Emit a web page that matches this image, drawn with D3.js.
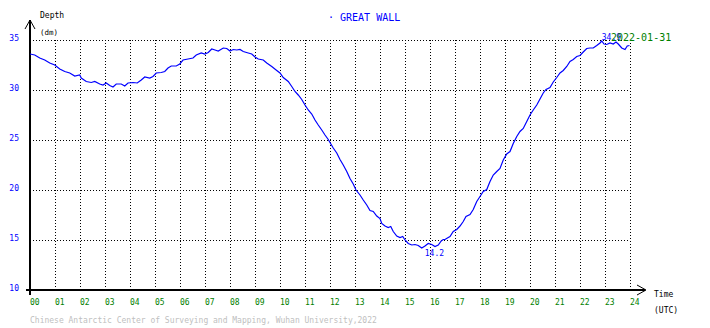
<!DOCTYPE html>
<html>
<head>
<meta charset="utf-8">
<script src="https://cdn.jsdelivr.net/npm/d3@7"></script>
<style>
  html, body { margin: 0; padding: 0; background: #fff; }
  svg { display: block; }
  text { font-family: "DejaVu Sans Mono", monospace; }
</style>
</head>
<body>
<script>
// Tide gauge record, station GREAT WALL, 2022-01-31 (hours UTC, depth in dm)
const stationName = "GREAT WALL";
const dateLabel = "2022-01-31";
const creditText = "Chinese Antarctic Center of Surveying and Mapping, Wuhan University,2022";

const hours = [
  0.00, 0.19, 0.39, 0.59, 0.79, 0.99, 1.19, 1.39, 1.59, 1.79, 1.99, 2.05, 2.25, 2.45, 2.59, 2.79,
  2.92, 3.05, 3.19, 3.32, 3.45, 3.65, 3.79, 3.92, 4.12, 4.29, 4.45, 4.59, 4.79, 4.92, 5.05, 5.25,
  5.39, 5.52, 5.65, 5.85, 5.99, 6.12, 6.32, 6.52, 6.65, 6.85, 6.99, 7.13, 7.27, 7.40, 7.53, 7.73,
  7.87, 8.00, 8.13, 8.27, 8.40, 8.53, 8.73, 8.87, 9.00, 9.13, 9.33, 9.47, 9.67, 9.87, 10.00, 10.13,
  10.33, 10.47, 10.60, 10.73, 10.87, 11.00, 11.13, 11.27, 11.40, 11.53, 11.67, 11.80, 11.93, 12.00,
  12.13, 12.27, 12.40, 12.53, 12.67, 12.80, 12.93, 13.04, 13.20, 13.33, 13.47, 13.60, 13.73, 13.87,
  14.00, 14.07, 14.20, 14.33, 14.43, 14.53, 14.67, 14.80, 14.91, 15.00, 15.13, 15.27, 15.40, 15.53,
  15.67, 15.80, 15.93, 16.07, 16.20, 16.33, 16.45, 16.53, 16.60, 16.73, 16.80, 16.93, 17.07, 17.20,
  17.33, 17.44, 17.60, 17.73, 17.87, 18.00, 18.13, 18.27, 18.40, 18.53, 18.67, 18.80, 18.93, 19.07,
  19.20, 19.33, 19.47, 19.60, 19.73, 19.87, 20.00, 20.13, 20.27, 20.40, 20.53, 20.64, 20.80, 20.93,
  21.07, 21.20, 21.33, 21.47, 21.60, 21.73, 21.87, 22.00, 22.13, 22.27, 22.40, 22.53, 22.67, 22.80,
  22.87, 22.96, 23.07, 23.20, 23.33, 23.44, 23.53, 23.67, 23.80, 23.89, 23.98
];
const depth = [
  33.6, 33.5, 33.2, 33.0, 32.7, 32.5, 32.1, 31.85, 31.7, 31.4, 31.5, 31.2, 30.85, 30.75, 30.85, 30.6,
  30.5, 30.7, 30.45, 30.3, 30.6, 30.6, 30.4, 30.7, 30.75, 30.7, 31.0, 31.3, 31.2, 31.35, 31.7, 31.75,
  31.85, 32.2, 32.4, 32.4, 32.6, 33.0, 33.1, 33.2, 33.5, 33.7, 33.6, 33.75, 34.1, 34.0, 33.9, 34.2,
  34.15, 33.9, 34.05, 34.0, 34.05, 33.85, 33.7, 33.6, 33.3, 33.1, 33.0, 32.7, 32.35, 31.95, 31.7, 31.25,
  30.85, 30.35, 29.85, 29.5, 29.05, 28.5, 28.0, 27.6, 27.0, 26.5, 26.0, 25.5, 25.05, 24.75,
  24.2, 23.7, 23.05, 22.5, 21.85, 21.15, 20.6, 20.0, 19.5, 19.0, 18.5, 17.95, 17.85, 17.4,
  17.15, 16.65, 16.4, 16.25, 16.35, 15.85, 15.4, 15.25, 15.35, 15.0, 14.65, 14.5, 14.55, 14.45,
  14.2, 14.4, 14.65, 14.55, 14.35, 14.5, 14.9, 15.05, 15.05, 15.25, 15.35, 15.85, 16.05, 16.4,
  16.85, 17.35, 17.55, 18.05, 18.85, 19.35, 19.85, 20.05, 20.85, 21.5, 21.85, 22.15, 23.0, 23.6,
  23.85, 24.65, 25.35, 25.85, 26.15, 26.85, 27.5, 28.0, 28.5, 29.1, 29.7, 30.05, 30.25, 30.8,
  31.25, 31.7, 31.95, 32.35, 32.85, 33.05, 33.35, 33.45, 33.8, 34.15, 34.2, 34.2, 34.45, 34.7,
  34.9, 34.6, 34.55, 34.7, 34.6, 34.8, 34.6, 34.2, 34.05, 34.4, 34.45
];

const hourTicks = d3.range(0, 25);          // 00 .. 24
const depthTicks = [10, 15, 20, 25, 30, 35];

const W = 710, H = 328;
const BLUE = "#0000ff", GREEN = "#008000";

const svg = d3.select("body").append("svg").attr("width", W).attr("height", H);
svg.append("rect").attr("width", W).attr("height", H).attr("fill", "#fff");

const x = d3.scaleLinear().domain([0, 24]).range([30, 630]);
const y = d3.scaleLinear().domain([10, 35]).range([290, 40]);

// dotted grid
const grid = svg.append("g").attr("stroke", "#000").attr("stroke-width", 1)
  .attr("stroke-dasharray", "1,2").attr("shape-rendering", "crispEdges");
grid.selectAll("line.v").data(hourTicks.filter(h => h > 0)).join("line")
  .attr("x1", d => x(d) + 0.5).attr("x2", d => x(d) + 0.5)
  .attr("y1", y(35)).attr("y2", y(10));
grid.selectAll("line.h").data(depthTicks.filter(v => v > 10)).join("line")
  .attr("x1", x(0)).attr("x2", x(24))
  .attr("y1", d => y(d) + 0.5).attr("y2", d => y(d) + 0.5);

// axes lines with arrows
const axes = svg.append("g").attr("stroke", "#000").attr("fill", "none");
axes.append("line").attr("x1", 30).attr("x2", 30).attr("y1", 20).attr("y2", 295).attr("stroke-width", 2);
axes.append("line").attr("x1", 26).attr("x2", 645).attr("y1", 290).attr("y2", 290).attr("stroke-width", 2);
axes.append("path").attr("d", "M25,29L30,20L35,29").attr("stroke-width", 1);
axes.append("path").attr("d", "M637,285L646,290L637,295").attr("stroke-width", 1);

// y tick labels
svg.append("g").selectAll("text").data(depthTicks).join("text")
  .attr("x", 19).attr("y", d => y(d) + 1)
  .attr("text-anchor", "end").attr("font-size", 8).attr("fill", BLUE)
  .text(d => d);

// x tick labels
const fmt = d3.format("02d");
svg.append("g").selectAll("text").data(hourTicks).join("text")
  .attr("x", d => x(d)).attr("y", 305)
  .attr("font-size", 8).attr("fill", GREEN)
  .text(d => fmt(d));

// axis titles
svg.append("text").attr("x", 40).attr("y", 18).attr("font-size", 8).attr("fill", "#000").text("Depth");
svg.append("text").attr("x", 40).attr("y", 35).attr("font-size", 7.5).attr("fill", "#000").text("(dm)");
svg.append("text").attr("x", 654).attr("y", 297).attr("font-size", 8).attr("fill", "#000").text("Time");
svg.append("text").attr("x", 654).attr("y", 313).attr("font-size", 8).attr("fill", "#000").text("(UTC)");

// station title
svg.append("text").attr("x", 328).attr("y", 20.5).attr("font-size", 10).attr("fill", BLUE)
  .text("\u00b7 " + stationName);

// credit line
svg.append("text").attr("x", 30).attr("y", 323).attr("font-size", 8).attr("fill", "#c0c0c0").text(creditText);

// depth curve
const pts = hours.map((h, i) => [h, depth[i]]);
const line = d3.line().x(d => x(d[0])).y(d => y(d[1]));
svg.append("path").datum(pts).attr("d", line)
  .attr("fill", "none").attr("stroke", BLUE).attr("stroke-width", 1.2);

// extreme value annotations
const iMax = d3.maxIndex(depth), iMin = d3.minIndex(depth);
svg.append("text").attr("x", x(hours[iMax])).attr("y", y(depth[iMax]) - 1)
  .attr("font-size", 8).attr("fill", BLUE).text(depth[iMax].toFixed(1));
svg.append("text").attr("x", x(hours[iMin]) + 3).attr("y", y(depth[iMin]) + 8)
  .attr("font-size", 8).attr("fill", BLUE).text(depth[iMin].toFixed(1));

// date stamp
svg.append("text").attr("x", 611).attr("y", 40.5).attr("font-size", 10).attr("fill", GREEN).text(dateLabel);
</script>
</body>
</html>
